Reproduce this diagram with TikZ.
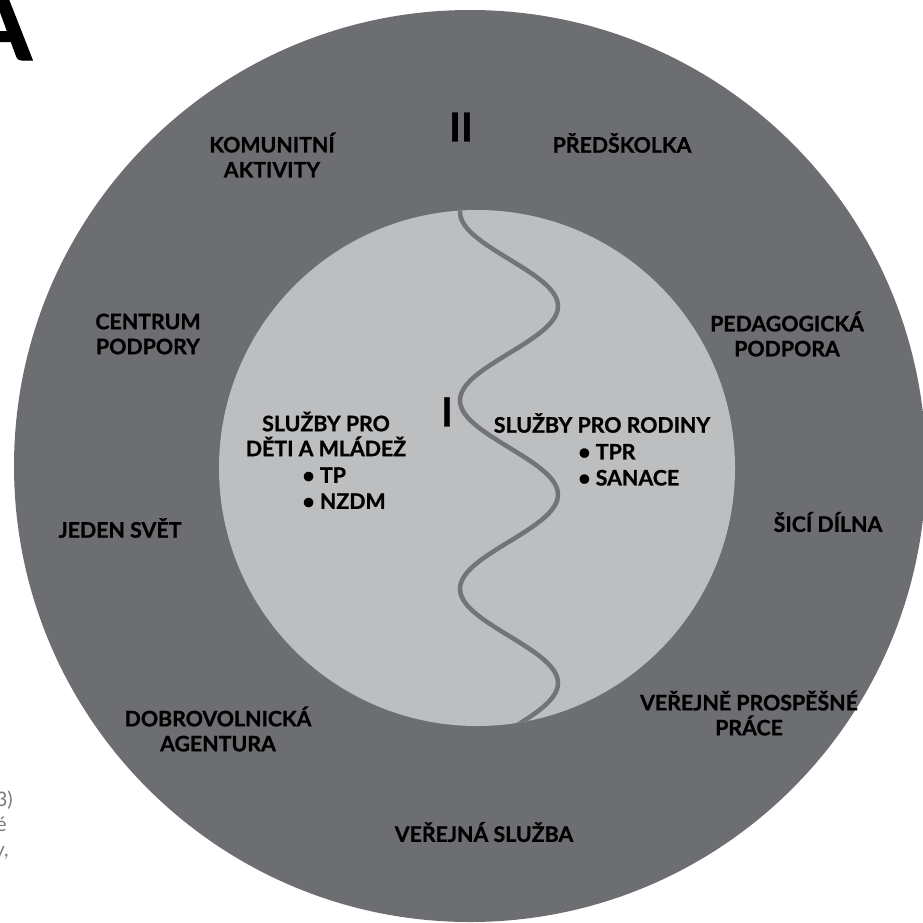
\documentclass[tikz,border=0pt]{standalone}
\usepackage{fontspec}
\setmainfont{Lato}[BoldFeatures={FakeBold=1}]
\usetikzlibrary{positioning}
\definecolor{ringgrey}{HTML}{6D6E71}
\definecolor{coregrey}{HTML}{BCBEC0}
\definecolor{wavegrey}{HTML}{737477}
\definecolor{notegrey}{HTML}{7A7B7E}

\begin{document}
\begin{tikzpicture}[x=0.75pt,y=-0.75pt,
  ringtext/.style={font=\bfseries\fontsize{16}{18.75}\selectfont, align=center, inner sep=0pt},
  items/.style={font=\bfseries\fontsize{16}{19.5}\selectfont, align=left, inner sep=0pt},
  numeral/.style={font=\bfseries\fontsize{30}{30}\selectfont, inner sep=0pt},
  scrap/.style={font=\fontsize{15}{19}\selectfont, text=notegrey, inner sep=0pt, anchor=base east}]
\useasboundingbox (0,0) rectangle (923,922);

% rings
\fill[ringgrey] (470,466) circle [radius=456];
\fill[coregrey] (477,468) circle [radius=258];
\begin{scope}
\clip (477,468) circle [radius=258];
\draw[wavegrey, line width=3.4pt, line cap=round]
  plot[domain=200:730, samples=160, smooth] ({509-49*cos(((\x-212)/188.4)*360)}, {\x});
\end{scope}

\node (bigA) [font=\bfseries\fontsize{78}{78}\selectfont, anchor=base east, inner sep=0pt] at (32,60) {A};

\node (two) [numeral] at (461,127) {II};
\node (one) [numeral] at (447,412) {I};

\node (komunitni) [ringtext] at (272,155) {KOMUNITNÍ\\AKTIVITY};
\node (predskolka) [ringtext] at (622,143) {PŘEDŠKOLKA};
\node (centrum) [ringtext] at (148,334) {CENTRUM\\PODPORY};
\node (pedagog) [ringtext] at (787,334) {PEDAGOGICKÁ\\PODPORA};
\node (jeden) [ringtext] at (120,528) {JEDEN SVĚT};
\node (dilna) [ringtext] at (828,522) {ŠICÍ DÍLNA};
\node (dobro) [ringtext] at (218,729) {DOBROVOLNICKÁ\\AGENTURA};
\node (vpp) [ringtext] at (749,713) {VEŘEJNĚ PROSPĚŠNÉ\\PRÁCE};
\node (vs) [ringtext] at (484,832) {VEŘEJNÁ SLUŽBA};

\node (deti) [ringtext] at (326,434) {SLUŽBY PRO\\DĚTI A MLÁDEŽ};
\node (detiitems) [items, below=8pt of deti, xshift=13.5pt] {• TP\\• NZDM};
\node (rodiny) [ringtext] at (602,423) {SLUŽBY PRO RODINY};
\node (rodinyitems) [items, below=8pt of rodiny, xshift=20pt] {• TPR\\• SANACE};

\node (scrapa) [scrap] at (13,806) {3)};
\node (scrapb) [scrap] at (7,831) {é};
\node (scrapc) [scrap] at (9,856) {y,};
\end{tikzpicture}
\end{document}
